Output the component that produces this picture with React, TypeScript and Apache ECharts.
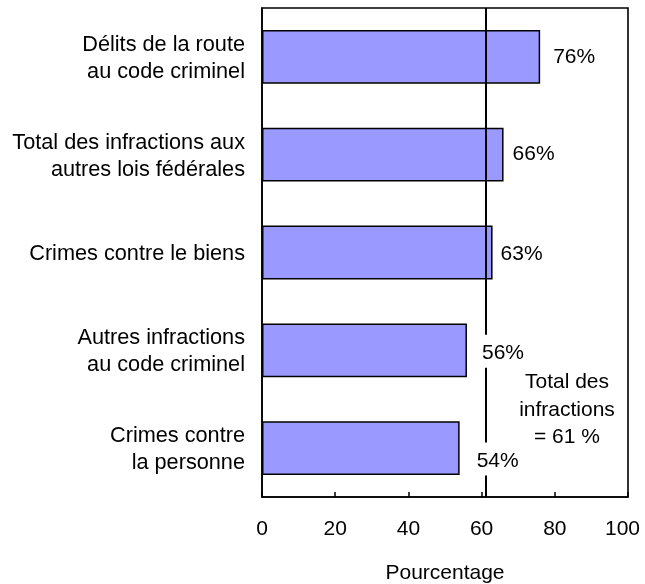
import React, { useEffect, useRef } from "react";
import * as echarts from "echarts";

const categories = [
  "Délits de la route\nau code criminel",
  "Total des infractions aux\nautres lois fédérales",
  "Crimes contre le biens",
  "Autres infractions\nau code criminel",
  "Crimes contre\nla personne",
];
const values = [76, 66, 63, 56, 54];
const totalValue = 61;
const totalText = "Total des\ninfractions\n= 61 %";
const axisName = "Pourcentage";

const FONT = '"Liberation Sans", Arial, Helvetica, sans-serif';

export default function App() {
  const ref = useRef<HTMLDivElement>(null);
  useEffect(() => {
    if (!ref.current) return;
    const chart = echarts.init(ref.current, null, { renderer: "svg" });
    // manual label nudges (layout only), as in the original figure
    const labelNudges = [
      [0, -1],
      [-4, -2],
      [-5, 0],
      [2, 1],
      [4, 11],
    ];
    chart.setOption({
      animation: false,
      textStyle: { fontFamily: FONT, color: "#000" },
      grid: {
        left: 262,
        right: 17,
        top: 8,
        bottom: 87,
        outerBoundsMode: "none",
        containLabel: false,
        show: true,
        borderColor: "#000",
        borderWidth: 1.6,
        backgroundColor: "transparent",
      },
      xAxis: {
        type: "value",
        min: 0,
        max: 100,
        interval: 20,
        name: axisName,
        nameLocation: "middle",
        nameGap: 64,
        nameTextStyle: { fontSize: 21, color: "#000", fontFamily: FONT },
        axisLine: { show: true, lineStyle: { color: "#000", width: 1.6 } },
        axisTick: { show: true, inside: true, length: 5, lineStyle: { color: "#000", width: 1.5 } },
        axisLabel: {
          fontSize: 21,
          color: "#000",
          margin: 20,
          fontFamily: FONT,
          formatter: (v: number) => (v === 100 ? "{last|" + v + "}" : String(v)),
          rich: { last: { fontSize: 21, fontFamily: FONT, color: "#000", padding: [0, 11, 0, 0] } },
        },
        splitLine: { show: false },
      },
      yAxis: {
        type: "category",
        inverse: true,
        data: categories,
        axisLine: { show: true, lineStyle: { color: "#000", width: 1.6 } },
        axisTick: { show: false },
        axisLabel: {
          fontSize: 21.7,
          color: "#000",
          margin: 17,
          lineHeight: 27,
          align: "right",
          fontFamily: FONT,
        },
      },
      series: [
        {
          type: "bar",
          data: values,
          barWidth: "55%",
          z: 2,
          itemStyle: { color: "#9999FF", borderColor: "#000", borderWidth: 1.5 },
          markLine: {
            z: 5,
            silent: true,
            symbol: ["none", "none"],
            label: { show: false },
            lineStyle: { color: "#000", width: 2, type: "solid" },
            data: [{ xAxis: totalValue }],
          },
        },
        {
          type: "bar",
          data: values.map((v, i) => ({ value: v, label: { offset: labelNudges[i] } })),
          barWidth: "55%",
          barGap: "-100%",
          z: 6,
          itemStyle: { color: "transparent", borderWidth: 0 },
          label: {
            show: true,
            position: "right",
            distance: 10,
            formatter: "{c}%",
            fontSize: 21,
            color: "#000",
            fontFamily: FONT,
            backgroundColor: "#fff",
            padding: [6, 3, 6, 3],
          },
        },
      ],
      graphic: [
        {
          type: "text",
          x: 567,
          y: 367,
          z: 10,
          style: {
            text: totalText,
            fontSize: 21,
            fontFamily: FONT,
            lineHeight: 27.5,
            fill: "#000",
            align: "center",
            verticalAlign: "top",
          },
        },
      ],
    });
    return () => chart.dispose();
  }, []);
  return (
    <div
      ref={ref}
      style={{ position: "fixed", left: 0, top: 0, width: 645, height: 584 }}
    />
  );
}
